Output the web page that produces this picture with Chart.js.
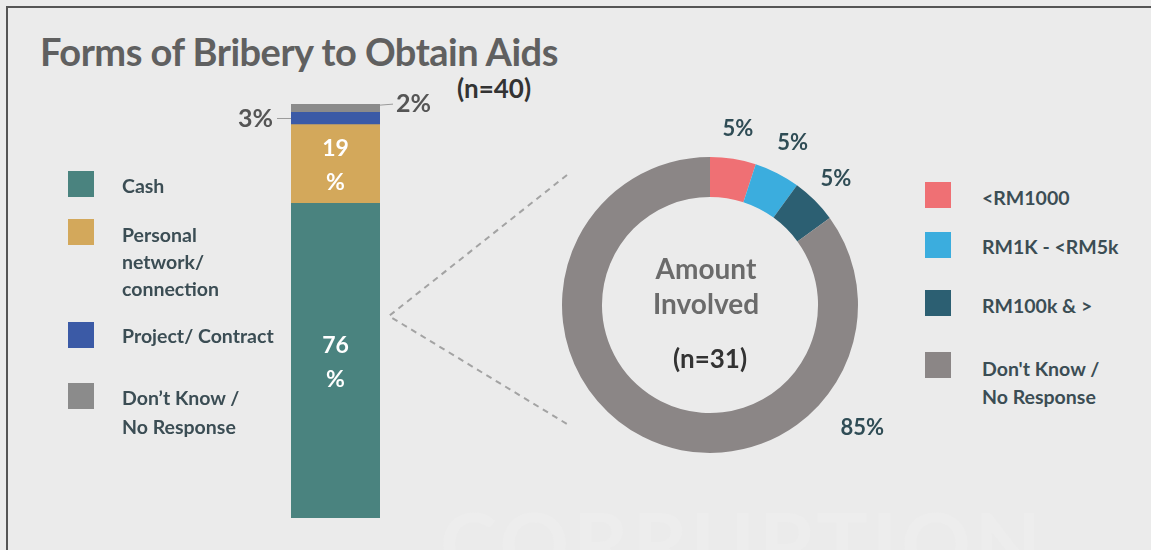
<!DOCTYPE html>
<html>
<head>
<meta charset="utf-8">
<title>Forms of Bribery to Obtain Aids</title>
<script src="https://cdn.jsdelivr.net/npm/chart.js@4.4.0/dist/chart.umd.min.js"></script>
<style>
  body { margin: 0; width: 1151px; height: 550px; background: #ebebeb; font-family: Lato, "Open Sans", sans-serif; font-weight: bold; position: relative; overflow: hidden; }
  #frame { position: absolute; left: 6px; top: 6px; right: 0; bottom: -4px; border-left: 2px solid #555; border-top: 2px solid #555; }
  .abs { position: absolute; white-space: nowrap; }
  #title { left: 40px; top: 28px; font-size: 38px; color: #606060; letter-spacing: -0.5px; }
  #n40 { left: 457px; top: 73px; font-size: 26px; line-height: 30px; color: #333; }
  #watermark { left: 440px; top: 490px; font-size: 86px; color: #ededed; letter-spacing: 4px; }
  .legend { position: absolute; font-size: 19.5px; color: #3b4d54; line-height: 27px; }
  .legend .sw { position: absolute; width: 26px; height: 26px; }
  .legend .tx { position: absolute; white-space: nowrap; }
  .center { position: absolute; text-align: center; width: 200px; }
  #wrapBar { position: absolute; left: 220px; top: 90px; width: 230px; height: 440px; }
  #wrapPie { position: absolute; left: 540px; top: 100px; width: 360px; height: 370px; }
  #links { position: absolute; left: 0; top: 0; }
</style>
</head>
<body>
<div id="frame"></div>
<div id="watermark" class="abs">CORRUPTION</div>
<div id="title" class="abs">Forms of Bribery to Obtain Aids</div>
<div id="n40" class="abs">(n=40)</div>

<svg id="links" width="1151" height="550">
  <polyline points="567,175 389,316 567,424" fill="none" stroke="#a3a3a3" stroke-width="2" stroke-dasharray="6,5"/>
</svg>

<div id="wrapBar"><canvas id="barChart"></canvas></div>
<div id="wrapPie"><canvas id="pieChart"></canvas></div>

<div class="center abs" style="left:606px; top:251px; font-size:28px; color:#6b6b6b; line-height:35px;">Amount<br>Involved</div>
<div class="center abs" style="left:610px; top:343px; font-size:26px; line-height:30px; color:#333;">(n=31)</div>

<div id="legendLeft"></div>
<div id="legendRight"></div>

<script>
// forms of bribery (stacked bar, n=40)
const formLabels = ['Cash', 'Personal network/ connection', 'Project/ Contract', "Don\u2019t Know / No Response"];
const formValues = [76, 19, 3, 2];
const formColors = ['#4a837f', '#d3a85b', '#3b5aa6', '#8b8b8b'];

// amount involved (doughnut, n=31)
const amountLabels = ['<RM1000', 'RM1K - <RM5k', 'RM100k & >', "Don't Know / No Response"];
const amountValues = [5, 5, 5, 85];
const amountColors = ['#ef7074', '#3badde', '#2c5f72', '#8b8686'];

// legend boxes, drawn as html next to each chart
function buildLegend(el, labels, colors, rows, x, textX) {
  labels.forEach((lab, i) => {
    const r = rows[i];
    const sw = document.createElement('div');
    sw.className = 'sw';
    sw.style.left = x + 'px';
    sw.style.top = r.box + 'px';
    sw.style.background = colors[i];
    el.appendChild(sw);
    r.lines.forEach((ln, j) => {
      const t = document.createElement('div');
      t.className = 'tx';
      t.style.left = textX + 'px';
      t.style.top = (r.text + j * r.step) + 'px';
      t.textContent = ln;
      el.appendChild(t);
    });
  });
  el.className = 'legend';
}

buildLegend(document.getElementById('legendLeft'), formLabels, formColors, [
  { box: 171, text: 172, step: 27, lines: ['Cash'] },
  { box: 219, text: 221, step: 27, lines: ['Personal', 'network/', 'connection'] },
  { box: 322, text: 322, step: 27, lines: ['Project/ Contract'] },
  { box: 383, text: 384, step: 29, lines: ['Don\u2019t Know /', 'No Response'] }
], 68, 122);

buildLegend(document.getElementById('legendRight'), amountLabels, amountColors, [
  { box: 182, text: 184, step: 28, lines: ['<RM1000'] },
  { box: 232, text: 233, step: 28, lines: ['RM1K - <RM5k'] },
  { box: 290, text: 292, step: 28, lines: ['RM100k & >'] },
  { box: 352, text: 355, step: 28, lines: ["Don't Know /", 'No Response'] }
], 925, 982);

// value labels on the stacked bar: big ones inside, small ones outside with a leader
const barLabels = {
  id: 'barLabels',
  afterDatasetsDraw(chart, args, opts) {
    const ctx = chart.ctx;
    ctx.save();
    chart.data.datasets.forEach((ds, i) => {
      const bar = chart.getDatasetMeta(i).data[0];
      const v = ds.data[0];
      const mid = (bar.y + bar.base) / 2;
      const left = bar.x - bar.width / 2;
      const right = bar.x + bar.width / 2;
      const side = opts.outside[i];
      if (!side) {
        ctx.fillStyle = '#ffffff';
        ctx.font = 'bold 23px Lato';
        ctx.textAlign = 'center';
        ctx.textBaseline = 'middle';
        ctx.fillText(String(v), bar.x, mid - 15);
        ctx.fillText('%', bar.x, mid + 19);
      } else {
        ctx.strokeStyle = '#9a9a9a';
        ctx.lineWidth = 1;
        ctx.font = 'bold 25px Lato';
        ctx.fillStyle = '#555';
        ctx.textBaseline = 'middle';
        ctx.beginPath();
        if (side === 'left') {
          ctx.moveTo(left - 14, mid); ctx.lineTo(left, mid);
          ctx.stroke();
          ctx.textAlign = 'right';
          ctx.fillText(v + '%', left - 18, mid);
        } else {
          ctx.moveTo(right, mid - 3); ctx.lineTo(right + 13, mid - 4);
          ctx.stroke();
          ctx.textAlign = 'left';
          ctx.fillText(v + '%', right + 16, mid - 4);
        }
      }
    });
    ctx.restore();
  }
};

new Chart(document.getElementById('barChart'), {
  type: 'bar',
  data: {
    labels: ['Forms'],
    datasets: formLabels.map((lab, i) => ({
      label: lab,
      data: [formValues[i]],
      backgroundColor: formColors[i],
      borderWidth: 0,
      barPercentage: 1,
      categoryPercentage: 1
    }))
  },
  options: {
    responsive: true,
    maintainAspectRatio: false,
    animation: false,
    layout: { padding: { left: 71, right: 70, top: 14, bottom: 12 } },
    scales: {
      x: { stacked: true, display: false },
      y: { stacked: true, display: false, min: 0, max: 100 }
    },
    plugins: {
      legend: { display: false },
      tooltip: { enabled: false },
      barLabels: { outside: [null, null, 'left', 'right'] }
    }
  },
  plugins: [barLabels]
});

// percent labels around the ring
const ringLabels = {
  id: 'ringLabels',
  afterDatasetsDraw(chart, args, opts) {
    const ctx = chart.ctx;
    const ds = chart.data.datasets[0];
    ctx.save();
    ctx.font = 'bold 22px Lato';
    ctx.fillStyle = '#2f4c55';
    ctx.textAlign = 'center';
    ctx.textBaseline = 'middle';
    chart.getDatasetMeta(0).data.forEach((arc, i) => {
      const o = opts.place[i] || {};
      const a = o.angle !== undefined ? o.angle * Math.PI / 180 : (arc.startAngle + arc.endAngle) / 2;
      const r = arc.outerRadius + (o.gap || 30);
      ctx.fillText(ds.data[i] + '%', arc.x + Math.cos(a) * r, arc.y + Math.sin(a) * r);
    });
    ctx.restore();
  }
};

new Chart(document.getElementById('pieChart'), {
  type: 'doughnut',
  data: {
    labels: amountLabels,
    datasets: [{
      data: amountValues,
      backgroundColor: amountColors,
      borderWidth: 0
    }]
  },
  options: {
    responsive: true,
    maintainAspectRatio: false,
    animation: false,
    cutout: '73%',
    layout: { padding: { left: 22, right: 42, top: 57, bottom: 17 } },
    plugins: {
      legend: { display: false },
      tooltip: { enabled: false },
      ringLabels: { place: [{}, { gap: 34 }, {}, { angle: 39, gap: 48 }] }
    }
  },
  plugins: [ringLabels]
});
</script>
</body>
</html>
